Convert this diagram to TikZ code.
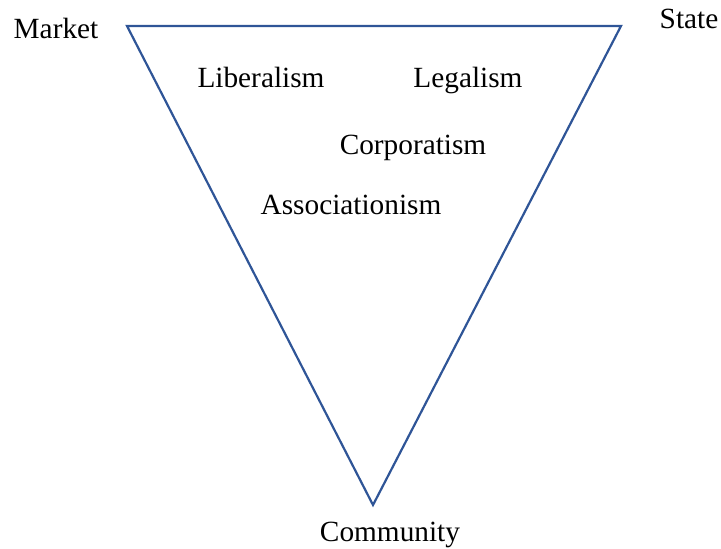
\documentclass[tikz,border=0pt]{standalone}
\usepackage{fontspec}
\setmainfont{Liberation Serif}
\definecolor{edgeblue}{HTML}{2F5597}
\begin{document}
\begin{tikzpicture}[x=1pt,y=1pt,
  lbl/.style={anchor=base,inner sep=0pt,font=\fontsize{29.3}{35}\selectfont},
  tri/.style={draw=edgeblue,line width=2.2pt,line join=miter}]
\useasboundingbox (0,0) rectangle (721,549);
\coordinate (m) at (127,523);
\coordinate (s) at (621,523);
\coordinate (c) at (373,44);
\draw[tri] (m) -- (s) -- (c) -- cycle;
\node[lbl] (market) at (56,510) {Market};
\node[lbl] (state) at (689,520) {State};
\node[lbl] (community) at (390,7) {Community};
\node[lbl] (lib) at (261,461) {Liberalism};
\node[lbl] (leg) at (468,461) {Legalism};
\node[lbl] (corp) at (413,394) {Corporatism};
\node[lbl] (assoc) at (351,334) {Associationism};
\end{tikzpicture}
\end{document}
